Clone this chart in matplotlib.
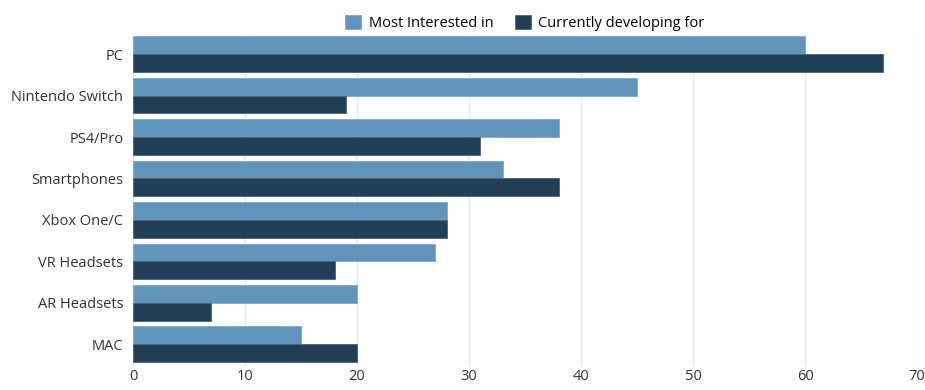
import matplotlib
matplotlib.use('Agg')
import matplotlib.pyplot as plt
import numpy as np

# data
platforms = ['PC', 'Nintendo Switch', 'PS4/Pro', 'Smartphones',
             'Xbox One/C', 'VR Headsets', 'AR Headsets', 'MAC']
interested = [60, 45, 38, 33, 28, 27, 20, 15]
developing = [67, 19, 31, 38, 28, 18, 7, 20]
xticks = [0, 10, 20, 30, 40, 50, 60, 70]

plt.rcParams['font.family'] = ['Open Sans', 'DejaVu Sans']

fig = plt.figure(figsize=(9.25, 3.9), dpi=100)
ax = fig.add_axes([0.1438, 0.062, 0.8476, 0.848])

y = np.arange(len(platforms))
h = 0.43
ax.barh(y - h / 2, interested, height=h, color='#6094bb',
        edgecolor='#7fa9c9', linewidth=0.6, label='Most Interested in', zorder=3)
ax.barh(y + h / 2, developing, height=h, color='#233f57',
        edgecolor='#4b6378', linewidth=0.6, label='Currently developing for', zorder=3)

ax.set_ylim(len(platforms) - 0.5 + 0.02, -0.5 + 0.04)
ax.set_xlim(0, 70)
ax.set_yticks(y)
ax.set_yticklabels(platforms, fontsize=10.5, color='#333333')
ax.set_xticks(xticks)
ax.set_xticklabels([str(t) for t in xticks], fontsize=10.5, color='#333333')
ax.tick_params(axis='y', length=0, pad=7)
ax.tick_params(axis='x', length=0, pad=2)
ax.grid(axis='x', color='#e6e6e6', linewidth=1, zorder=0)
for s in ax.spines.values():
    s.set_visible(False)

ax.legend(loc='lower center', bbox_to_anchor=(0.5, 0.995), ncol=2,
          frameon=False, fontsize=10.5, handlelength=1.1, handleheight=1.1,
          handletextpad=0.5, columnspacing=1.5, borderaxespad=0)

fig.savefig('out.png', dpi=100)
